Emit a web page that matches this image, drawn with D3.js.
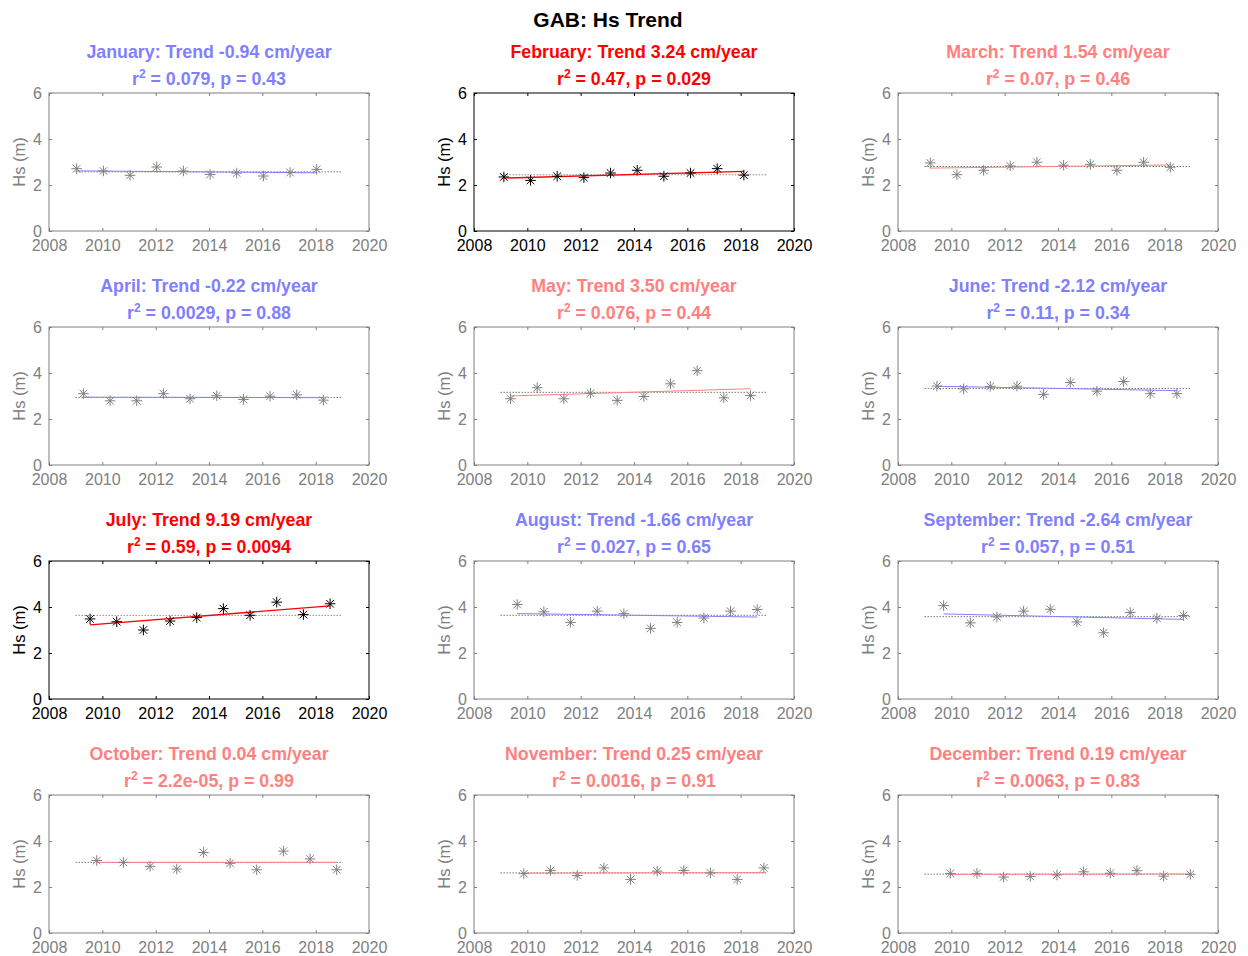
<!DOCTYPE html>
<html>
<head>
<meta charset="utf-8">
<script src="https://cdn.jsdelivr.net/npm/d3@7"></script>
<style>
  body { margin: 0; background: #fff; }
  svg { font-family: "Liberation Sans", Arial, sans-serif; }
</style>
</head>
<body>
<div id="vis"></div>
<script>
// monthly mean Hs per year
const months = ['January','February','March','April','May','June',
  'July','August','September','October','November','December'];
const years = [2009, 2010, 2011, 2012, 2013, 2014, 2015, 2016, 2017, 2018];
// where in the year each month's point sits
const monthOffset = [0.04, 0.12, 0.21, 0.29, 0.37, 0.46, 0.54, 0.62, 0.71, 0.79, 0.87, 0.96];

const hsJan = [2.71, 2.61, 2.42, 2.78, 2.61, 2.46, 2.52, 2.39, 2.54, 2.68];
const hsFeb = [2.35, 2.20, 2.38, 2.32, 2.52, 2.64, 2.38, 2.52, 2.71, 2.43];
const hsMar = [2.96, 2.45, 2.64, 2.83, 2.99, 2.86, 2.90, 2.64, 2.99, 2.77];
const hsApr = [3.10, 2.79, 2.79, 3.10, 2.88, 3.01, 2.85, 2.99, 3.05, 2.82];
const hsMay = [2.88, 3.36, 2.88, 3.12, 2.81, 2.98, 3.53, 4.10, 2.92, 3.02];
const hsJun = [3.43, 3.31, 3.42, 3.43, 3.07, 3.59, 3.21, 3.63, 3.10, 3.10];
const hsJul = [3.48, 3.36, 3.00, 3.39, 3.54, 3.93, 3.64, 4.21, 3.67, 4.14];
const hsAug = [4.11, 3.79, 3.33, 3.82, 3.71, 3.07, 3.33, 3.52, 3.82, 3.89];
const hsSep = [4.06, 3.31, 3.57, 3.82, 3.90, 3.35, 2.88, 3.76, 3.51, 3.63];
const hsOct = [3.15, 3.07, 2.90, 2.78, 3.50, 3.03, 2.75, 3.56, 3.22, 2.75];
const hsNov = [2.58, 2.72, 2.50, 2.83, 2.33, 2.69, 2.72, 2.61, 2.33, 2.83];
const hsDec = [2.59, 2.59, 2.43, 2.46, 2.52, 2.66, 2.60, 2.71, 2.47, 2.55];

// trend in cm/year and fit stats from the panel titles
const trends = [-0.94, 3.24, 1.54, -0.22, 3.50, -2.12, 9.19, -1.66, -2.64, 0.04, 0.25, 0.19];
const r2Text = ['0.079', '0.47', '0.07', '0.0029', '0.076', '0.11', '0.59', '0.027', '0.057', '2.2e-05', '0.0016', '0.0063'];
const pText = ['0.43', '0.029', '0.46', '0.88', '0.44', '0.34', '0.0094', '0.65', '0.51', '0.99', '0.91', '0.83'];
const pValues = [0.43, 0.029, 0.46, 0.88, 0.44, 0.34, 0.0094, 0.65, 0.51, 0.99, 0.91, 0.83];

const xTicks = [2008, 2010, 2012, 2014, 2016, 2018, 2020];
const yTicks = [0, 2, 4, 6];

const allHs = [hsJan, hsFeb, hsMar, hsApr, hsMay, hsJun, hsJul, hsAug, hsSep, hsOct, hsNov, hsDec];

let W = 1248, H = 956;
let colLeft = [49, 474, 898], rowTop = [93, 327, 561, 795];
let pw = 320, ph = 138;
let font = 'Liberation Sans, Arial, sans-serif';

let svg = d3.select('#vis').append('svg')
  .attr('width', W)
  .attr('height', H)
  .attr('viewBox', [0, 0, W, H].join(' '));

svg.append('text')
  .attr('x', 608).attr('y', 27)
  .attr('text-anchor', 'middle')
  .style('font-weight', 'bold')
  .style('font-size', '21px')
  .text('GAB: Hs Trend');

months.forEach((m, i) => {
  let hs = allHs[i];
  let pts = years.map((yr, j) => ({x: yr + monthOffset[i], y: hs[j]}));
  let sig = pValues[i] < 0.05;
  let lineCol = trends[i] > 0 ? (sig ? '#ff0000' : '#ff8080') : '#8080ff';
  let axisCol = sig ? '#000' : '#808080';

  let left = colLeft[i % 3], top = rowTop[Math.floor(i / 3)];
  let x = d3.scaleLinear().domain([2008, 2020]).range([left, left + pw]);
  let y = d3.scaleLinear().domain([0, 6]).range([top + ph, top]);

  let g = svg.append('g');

  // axes box with inward ticks on all sides
  g.append('rect')
    .attr('x', left).attr('y', top).attr('width', pw).attr('height', ph)
    .attr('fill', 'none').attr('stroke', axisCol).attr('stroke-width', 1);

  g.append('g')
    .attr('transform', `translate(0,${top + ph})`)
    .call(d3.axisBottom(x).tickValues(xTicks).tickFormat(d3.format('d')).tickSizeInner(-3).tickSizeOuter(0).tickPadding(9))
    .call(a => a.select('.domain').remove())
    .call(a => a.selectAll('line').attr('stroke', axisCol))
    .call(a => a.selectAll('text').attr('fill', axisCol).attr('font-size', 16).attr('font-family', font));
  g.append('g')
    .attr('transform', `translate(0,${top})`)
    .call(d3.axisTop(x).tickValues(xTicks).tickSizeInner(-3).tickSizeOuter(0).tickFormat(''))
    .call(a => a.select('.domain').remove())
    .call(a => a.selectAll('line').attr('stroke', axisCol));
  g.append('g')
    .attr('transform', `translate(${left},0)`)
    .call(d3.axisLeft(y).tickValues(yTicks).tickFormat(d3.format('d')).tickSizeInner(-3).tickSizeOuter(0).tickPadding(7))
    .call(a => a.select('.domain').remove())
    .call(a => a.selectAll('line').attr('stroke', axisCol))
    .call(a => a.selectAll('text').attr('fill', axisCol).attr('font-size', 16).attr('font-family', font));
  g.append('g')
    .attr('transform', `translate(${left + pw},0)`)
    .call(d3.axisRight(y).tickValues(yTicks).tickSizeInner(-3).tickSizeOuter(0).tickFormat(''))
    .call(a => a.select('.domain').remove())
    .call(a => a.selectAll('line').attr('stroke', axisCol));

  // y label
  g.append('text')
    .attr('transform', `translate(${left - 24},${top + ph / 2}) rotate(-90)`)
    .attr('text-anchor', 'middle')
    .attr('fill', axisCol)
    .style('font-size', '16.5px')
    .text('Hs (m)');

  // titles
  g.append('text')
    .attr('x', left + pw / 2).attr('y', top - 35)
    .attr('text-anchor', 'middle')
    .attr('fill', lineCol)
    .style('font-weight', 'bold').style('font-size', '17.8px')
    .text(`${m}: Trend ${trends[i].toFixed(2)} cm/year`);
  let t2 = g.append('text')
    .attr('x', left + pw / 2).attr('y', top - 8)
    .attr('text-anchor', 'middle')
    .attr('fill', lineCol)
    .style('font-weight', 'bold').style('font-size', '17.8px');
  t2.append('tspan').text('r');
  t2.append('tspan').attr('dy', -7).style('font-size', '12px').text('2');
  t2.append('tspan').attr('dy', 7).text(` = ${r2Text[i]}, p = ${pText[i]}`);

  // mean (dotted) line
  let mean = d3.mean(hs);
  g.append('line')
    .attr('x1', x(2009)).attr('x2', x(2019))
    .attr('y1', y(mean)).attr('y2', y(mean))
    .attr('stroke', sig ? '#555' : '#333')
    .attr('stroke-width', 1)
    .attr('stroke-dasharray', '1,2');

  // trend line: slope from title, through the data centroid
  let mx = d3.mean(pts, d => d.x), my = d3.mean(pts, d => d.y);
  let slope = trends[i] / 100;
  let x0 = pts[0].x, x1 = pts[pts.length - 1].x;
  g.append('line')
    .attr('x1', x(x0)).attr('x2', x(x1))
    .attr('y1', y(my + slope * (x0 - mx))).attr('y2', y(my + slope * (x1 - mx)))
    .attr('stroke', lineCol)
    .attr('stroke-width', sig ? 1.3 : 1);

  // asterisk markers
  let r = 5.3, rd = 3.8;
  let star = `M${-r},0L${r},0M0,${-r}L0,${r}M${-rd},${-rd}L${rd},${rd}M${-rd},${rd}L${rd},${-rd}`;
  g.append('g')
    .selectAll('path')
    .data(pts)
    .join('path')
      .attr('transform', d => `translate(${x(d.x)},${y(d.y)})`)
      .attr('d', star)
      .attr('fill', 'none')
      .attr('stroke', sig ? '#000' : '#808080')
      .attr('stroke-width', 1);
});
</script>
</body>
</html>
